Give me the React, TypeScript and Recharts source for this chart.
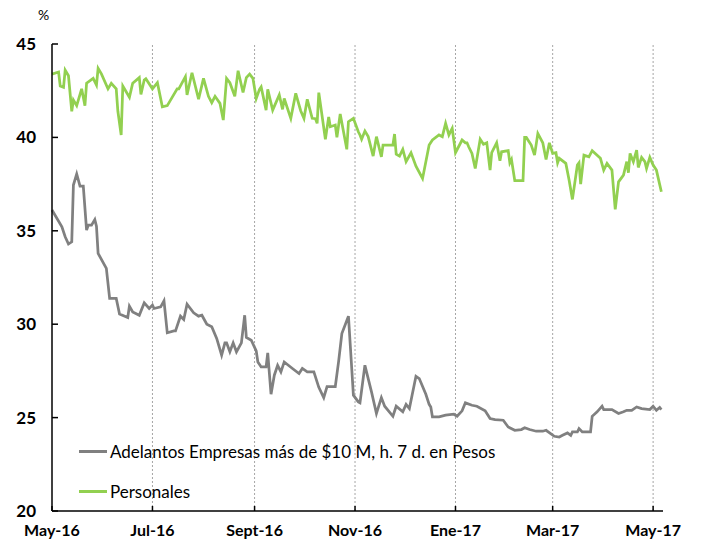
import { LineChart, Line, XAxis, YAxis, ReferenceLine, Legend } from "recharts";

// días desde el 1 de mayo de 2016
const mesDias = [0, 61, 123, 184, 245, 304, 365];
const mesEtiquetas = ["May-16", "Jul-16", "Sept-16", "Nov-16", "Ene-17", "Mar-17", "May-17"];
const tasaTicks = [20, 25, 30, 35, 40, 45];

const adelantosDias = [
  0, 6, 8, 10, 12, 13, 15, 17, 19, 21, 22, 24, 26, 27, 28, 33, 35, 39, 41, 46, 47, 49, 53, 56, 59, 61, 62, 66, 68,
  70, 74, 75, 78, 80, 82, 86, 89, 91, 94, 97, 100, 103, 105, 106, 108, 110, 112, 115, 117, 118, 121, 124, 125, 127,
  130, 131, 133, 135, 137, 139, 141, 146, 150, 152, 155, 159, 162, 165, 167, 172, 174, 176, 180, 182, 183, 186, 187,
  190, 194, 197, 200, 202, 207, 209, 213, 215, 217, 221, 223, 227, 229, 230, 231, 235, 239, 244, 246, 249, 251, 255,
  258, 263, 266, 269, 274, 277, 281, 285, 287, 290, 294, 298, 300, 305, 308, 310, 313, 315, 316, 319, 320, 322, 327,
  328, 331, 334, 335, 340, 344, 347, 349, 352, 355, 358, 363, 365, 367, 369, 370,
];
const adelantosTasa = [
  36.11, 35.21, 34.68, 34.29, 34.41, 37.45, 38.04, 37.39, 37.39, 35.04, 35.3, 35.3, 35.6, 35.25, 33.79, 32.99, 31.38,
  31.38, 30.54, 30.36, 30.97, 30.66, 30.48, 31.14, 30.84, 31.02, 30.84, 30.93, 31.25, 29.54, 29.64, 29.64, 30.43,
  30.25, 31.07, 30.61, 30.43, 30.48, 30.0, 29.86, 29.24, 28.34, 29.0, 29.0, 28.52, 29.0, 28.52, 29.0, 30.48, 29.29,
  29.14, 28.57, 27.98, 27.71, 27.71, 28.46, 26.25, 27.27, 27.8, 27.45, 27.98, 27.63, 27.36, 27.63, 27.45, 27.45,
  26.62, 26.07, 26.66, 26.66, 27.98, 29.5, 30.43, 27.63, 26.2, 25.84, 25.79, 27.8, 26.38, 25.22, 26.07, 25.61, 25.07,
  25.61, 25.31, 25.71, 25.48, 27.21, 27.09, 26.25, 25.71, 25.57, 25.04, 25.04, 25.13, 25.18, 25.07, 25.36, 25.79,
  25.66, 25.61, 25.36, 24.95, 24.89, 24.86, 24.5, 24.32, 24.36, 24.46, 24.36, 24.27, 24.27, 24.32, 24.0, 23.96,
  24.05, 24.18, 24.05, 24.23, 24.23, 24.41, 24.23, 24.23, 25.07, 25.31, 25.61, 25.43, 25.43, 25.22, 25.31, 25.39,
  25.39, 25.57, 25.48, 25.43, 25.61, 25.39, 25.54, 25.43,
];

const personalesDias = [
  0, 4, 5, 7, 8, 10, 12, 13, 15, 18, 20, 21, 25, 27, 28, 30, 34, 36, 39, 40, 42, 43, 47, 49, 53, 54, 56, 57, 61, 64,
  67, 70, 76, 77, 81, 82, 85, 89, 92, 95, 97, 99, 102, 104, 106, 108, 111, 113, 116, 118, 120, 122, 124, 126, 127,
  130, 131, 134, 138, 140, 141, 145, 148, 151, 153, 155, 158, 160, 161, 162, 166, 168, 169, 172, 173, 175, 179, 180,
  183, 186, 187, 188, 190, 192, 195, 197, 200, 201, 207, 208, 209, 211, 213, 215, 218, 221, 225, 229, 231, 235, 237,
  239, 241, 243, 245, 249, 251, 252, 253, 255, 257, 260, 262, 264, 266, 267, 270, 272, 273, 277, 278, 279, 281, 286,
  287, 288, 291, 293, 295, 298, 300, 302, 304, 306, 307, 308, 312, 314, 316, 319, 320, 321, 323, 326, 328, 333, 335,
  337, 340, 342, 344, 347, 349, 350, 351, 353, 355, 356, 358, 360, 361, 363, 365, 367, 368, 370,
];
const personalesTasa = [
  43.39, 43.5, 42.75, 42.68, 43.6, 43.3, 41.4, 42.0, 41.7, 42.6, 41.7, 42.9, 43.16, 42.8, 43.7, 43.4, 42.6, 42.9,
  42.6, 41.4, 40.13, 42.75, 42.15, 42.9, 43.2, 42.3, 43.07, 43.14, 42.6, 42.93, 41.64, 41.7, 42.6, 42.6, 43.25, 42.27,
  43.46, 42.05, 43.16, 42.2, 41.86, 42.2, 41.82, 40.93, 43.16, 42.93, 42.2, 43.57, 42.4, 43.2, 43.39, 43.16, 42.08,
  42.57, 42.7, 41.46, 42.57, 41.46, 42.27, 41.5, 42.08, 41.02, 42.36, 41.43, 41.02, 42.04, 41.02, 41.0, 40.75, 42.4,
  39.9, 41.1, 40.57, 40.66, 40.0, 41.25, 39.36, 40.84, 41.02, 40.3, 40.13, 39.9, 40.34, 40.04, 39.0, 40.04, 38.96,
  39.59, 39.59, 40.18, 39.1, 39.0, 39.36, 38.7, 39.18, 38.46, 37.8, 39.59, 39.86, 40.13, 40.04, 40.75, 40.13, 40.48,
  39.18, 39.86, 39.71, 39.71, 39.5, 39.14, 38.34, 39.9, 39.63, 39.71, 38.25, 39.18, 39.71, 38.75, 39.23, 39.29,
  38.64, 38.82, 37.68, 37.68, 40.0, 40.0, 39.59, 39.05, 40.21, 39.71, 38.82, 39.71, 39.14, 39.18, 38.64, 38.88,
  38.61, 37.71, 36.68, 38.52, 38.64, 37.5, 39.05, 38.96, 39.29, 38.88, 38.25, 38.61, 38.25, 36.15, 37.62, 37.98,
  38.7, 38.11, 39.14, 38.7, 39.32, 38.39, 38.93, 38.7, 38.34, 38.93, 38.52, 38.25, 37.86, 37.09,
];

const SERIES = [
  { name: "Adelantos Empresas más de $10 M, h. 7 d. en Pesos", color: "#808080", dias: adelantosDias, tasa: adelantosTasa },
  { name: "Personales", color: "#92d050", dias: personalesDias, tasa: personalesTasa },
];

const Leyenda = () => (
  <div>
    {SERIES.map((s, i) => (
      <div
        key={s.name}
        style={{ display: "flex", alignItems: "center", height: 20, marginBottom: i === 0 ? 20 : 0 }}
      >
        <span style={{ display: "inline-block", width: 28, height: 3, background: s.color, marginRight: 3 }} />
        <span style={{ fontSize: 17, color: "#000" }}>{s.name}</span>
      </div>
    ))}
  </div>
);

export default function App() {
  return (
    <div style={{ position: "absolute", left: 0, top: 0, width: 703, height: 542, background: "#fff", fontFamily: "Lato, sans-serif" }}>
      <div style={{ position: "absolute", left: 38, top: 6, fontSize: 14, color: "#000" }}>%</div>
      <LineChart width={703} height={542} margin={{ top: 44, right: 40, bottom: 6, left: 0 }}>
        {mesDias.slice(1).map((d) => (
          <ReferenceLine key={d} x={d} stroke="#a6a6a6" strokeDasharray="2 2" />
        ))}
        <XAxis
          dataKey="dia"
          type="number"
          domain={[0, 371]}
          ticks={mesDias}
          tickFormatter={(d: number) => mesEtiquetas[mesDias.indexOf(d)]}
          height={25}
          tickSize={-5}
          tickMargin={19}
          stroke="#000"
          strokeWidth={1.5}
          tick={{ fontSize: 16, fontWeight: 700, fill: "#000" }}
          allowDuplicatedCategory={false}
        />
        <YAxis
          type="number"
          domain={[20, 45]}
          ticks={tasaTicks}
          width={52}
          tickSize={-6}
          tickMargin={22}
          stroke="#000"
          strokeWidth={1.5}
          tick={{ fontSize: 17, fontWeight: 700, fill: "#000" }}
        />
        <Legend
          content={<Leyenda />}
          layout="horizontal"
          verticalAlign="middle"
          align="center"
          wrapperStyle={{ left: 79, top: 441, width: 470 }}
        />
        {SERIES.map((s) => (
          <Line
            key={s.name}
            name={s.name}
            data={s.dias.map((dia, i) => ({ dia, valor: s.tasa[i] }))}
            dataKey="valor"
            stroke={s.color}
            strokeWidth={2.75}
            dot={false}
            isAnimationActive={false}
          />
        ))}
      </LineChart>
    </div>
  );
}
